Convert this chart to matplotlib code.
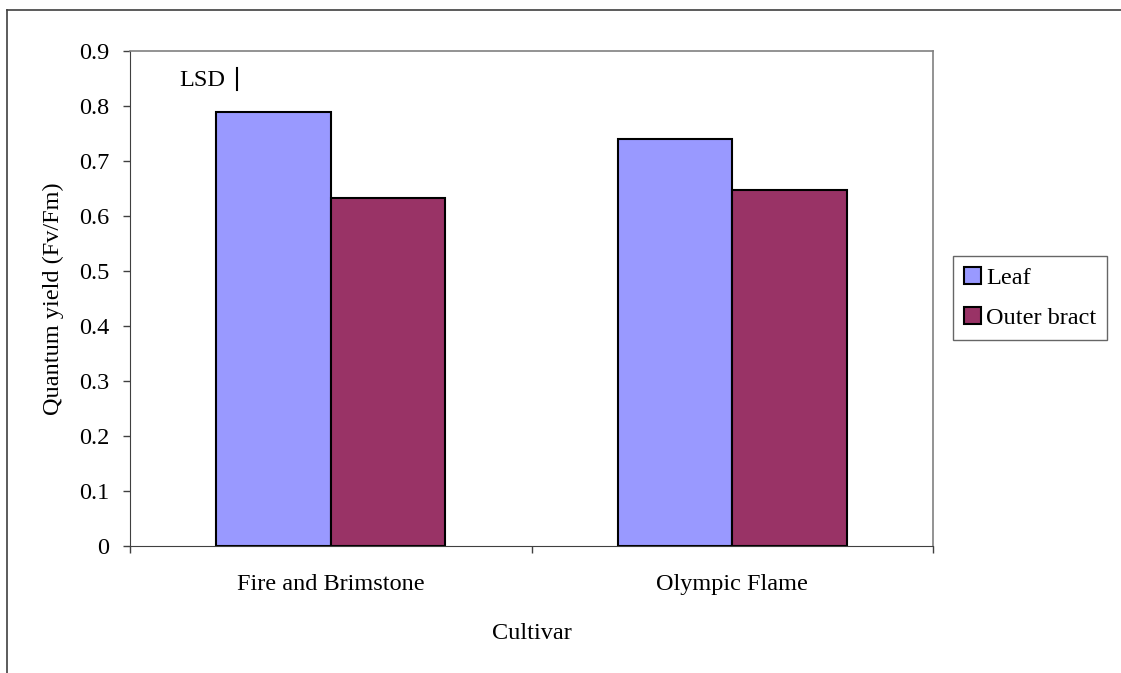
import numpy as np
import matplotlib
matplotlib.use('Agg')
import matplotlib.pyplot as plt
from matplotlib.lines import Line2D

###########                 Data                 ###########
#----------------------------------------------------------#
cultivars = ['Fire and Brimstone', 'Olympic Flame']
leaf = [0.789, 0.740]
outer_bract = [0.633, 0.648]
series_names = ['Leaf', 'Outer bract']
lsd_low, lsd_high = 0.829, 0.869
yticks = [0, 0.1, 0.2, 0.3, 0.4, 0.5, 0.6, 0.7, 0.8, 0.9]

FS = 17.5

###########                Figure                ###########
#----------------------------------------------------------#
plt.rcParams['font.family'] = ['Liberation Serif', 'DejaVu Serif']
fig = plt.figure(figsize=(11.21, 6.73), dpi=100)
ax = fig.add_axes([130/1121, 127/673, 803/1121, 495/673])

x = np.arange(len(cultivars))
w = 1 / 3.5
ax.bar(x - w/2, leaf, w, color='#9999FF', edgecolor='black', linewidth=1.5, label=series_names[0])
ax.bar(x + w/2, outer_bract, w, color='#993366', edgecolor='black', linewidth=1.5, label=series_names[1])

# LSD bar
ax.plot([-0.233, -0.233], [lsd_low, lsd_high], color='black', linewidth=1.5)
ax.text(-0.262, (lsd_low + lsd_high) / 2 - 0.002, 'LSD', ha='right', va='center', fontsize=FS)

ax.set_xlim(-0.5, 1.5)
ax.set_ylim(0, 0.9)
ax.set_yticks(yticks)
ax.set_yticklabels(['0'] + ['%.1f' % v for v in yticks[1:]])
ax.set_xticks([-0.5, 0.5, 1.5])
ax.set_xticklabels([])
ax.set_xticks(x, minor=True)
ax.set_xticklabels(cultivars, minor=True)
ax.tick_params(axis='x', which='minor', length=0, pad=20, labelsize=FS)
ax.tick_params(axis='both', which='major', direction='out', length=5, width=1, color='#404040', labelsize=FS)
ax.tick_params(axis='y', which='major', pad=10)

for s in ['left', 'bottom']:
    ax.spines[s].set_color('#404040')
for s in ['top', 'right']:
    ax.spines[s].set_color('#808080')
    ax.spines[s].set_linewidth(1.2)

ax.set_ylabel('Quantum yield (Fv/Fm)', fontsize=FS, labelpad=11)
ax.set_xlabel('Cultivar', fontsize=FS, labelpad=20)

leg = ax.legend(loc='center left', bbox_to_anchor=(953/1121, (673-298)/673), bbox_transform=fig.transFigure,
                fontsize=FS, frameon=True, fancybox=False, edgecolor='#404040',
                handlelength=0.7, handleheight=0.7, handletextpad=0.2, borderpad=0.45,
                labelspacing=0.75, borderaxespad=0)
leg.get_frame().set_linewidth(1)

# outer chart frame
fig.add_artist(Line2D([7/1121, 7/1121], [0, 663/673], color='#404040', linewidth=1.2, transform=fig.transFigure))
fig.add_artist(Line2D([7/1121, 1], [663/673, 663/673], color='#404040', linewidth=1.2, transform=fig.transFigure))

fig.savefig('out.png', dpi=100)
